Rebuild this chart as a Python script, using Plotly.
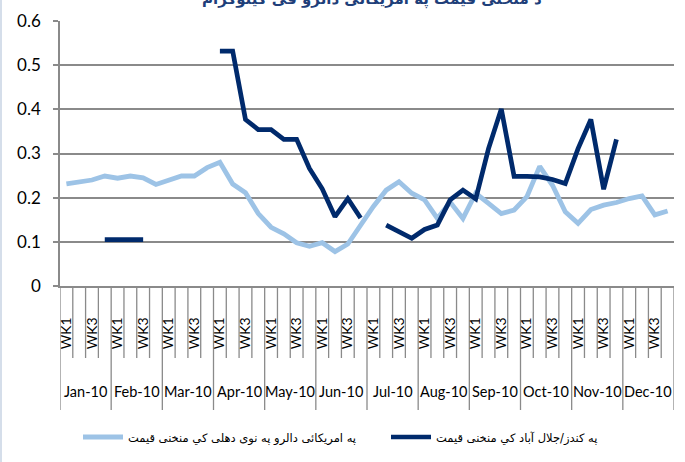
import plotly.graph_objects as go

months = ["Jan-10", "Feb-10", "Mar-10", "Apr-10", "May-10", "Jun-10",
          "Jul-10", "Aug-10", "Sep-10", "Oct-10", "Nov-10", "Dec-10"]
weeks = ["WK1", "WK2", "WK3", "WK4"]
week_tick_labels = ["WK1", "", "WK3", ""]

categories = [f"{m} {w}" for m in months for w in weeks]

delhi_usd = [0.231, 0.235, 0.240, 0.249, 0.244, 0.249, 0.245, 0.230, 0.240, 0.249,
             0.249, 0.268, 0.280, 0.231, 0.211, 0.164, 0.133, 0.118, 0.098, 0.090,
             0.098, 0.078, 0.095, 0.140, 0.180, 0.217, 0.236, 0.210, 0.195, 0.153,
             0.190, 0.153, 0.210, 0.187, 0.164, 0.172, 0.202, 0.271, 0.228, 0.168,
             0.142, 0.173, 0.183, 0.189, 0.198, 0.204, 0.161, 0.170]

kunduz_jalalabad = [None, None, None, 0.105, 0.105, 0.105, 0.105, None, None, None,
                    None, None, 0.532, 0.532, 0.377, 0.354, 0.354, 0.332, 0.332, 0.266,
                    0.220, 0.157, 0.198, 0.154, None, 0.138, 0.122, 0.108, 0.128, 0.138,
                    0.195, 0.217, 0.197, 0.311, 0.401, 0.248, 0.248, 0.247, 0.241, 0.232,
                    0.311, 0.377, 0.219, 0.332, None, None, None, None]

name_delhi = "په امریکائی دالرو په نوی دهلی کي منخنی قیمت"
name_kj = "په کندز/جلال آباد کي منخنی قیمت"
title_text = "د منخنی قیمت په امریکائی دالرو فی کیلوګرام"

LIGHT = "#9DC3E6"
DARK = "#002A6C"
GRID = "#8A8A8A"

W, H = 685, 462
L, R, T, B = 60, 11, 21, 176
plot_h = H - T - B
plot_w = W - L - R

fig = go.Figure()
fig.add_trace(go.Scatter(x=categories, y=delhi_usd, mode="lines", name=name_delhi,
                         line=dict(color=LIGHT, width=4.8), connectgaps=False, legend="legend"))
fig.add_trace(go.Scatter(x=categories, y=kunduz_jalalabad, mode="lines", name=name_kj,
                         line=dict(color=DARK, width=4.7), connectgaps=False, legend="legend2"))

ticktext = [week_tick_labels[i % 4] for i in range(len(categories))]

shapes = []
n = len(categories)
for b in range(n + 1):
    is_month = (b % 4 == 0)
    ylen = 124 if is_month else 72
    shapes.append(dict(type="line", xref="x", yref="paper",
                       x0=b - 0.5, x1=b - 0.5, y0=0, y1=-ylen / plot_h,
                       line=dict(color=GRID, width=1.3), layer="below"))
# faint page border at the left edge
shapes.append(dict(type="line", xref="paper", yref="paper",
                   x0=-(L - 1) / plot_w, x1=-(L - 1) / plot_w, y0=-B / plot_h, y1=(plot_h + T) / plot_h,
                   line=dict(color="#D5DEEA", width=2)))

annotations = []
for k, m in enumerate(months):
    annotations.append(dict(x=4 * k + 1.5, y=-(391 - (H - B)) / plot_h, xref="x", yref="paper",
                            text=m, showarrow=False, xanchor="center", yanchor="middle",
                            font=dict(family="Lato", size=14.5, color="#000000")))
annotations.append(dict(x=(372 - L) / plot_w, y=(H - B - 11) / plot_h, xref="paper", yref="paper",
                        text=f"<b>{title_text}</b>", showarrow=False, xanchor="center", yanchor="bottom",
                        font=dict(family="DejaVu Sans", size=15, color="#1F3F7A")))

leg_common = dict(orientation="h", xanchor="left", y=-(437 - (H - B)) / plot_h, yanchor="middle",
                  font=dict(family="DejaVu Sans", size=11.5, color="#000000"),
                  itemwidth=40, bgcolor="rgba(0,0,0,0)")

fig.update_layout(
    width=W, height=H,
    margin=dict(l=L, r=R, t=T, b=B, pad=0, autoexpand=False),
    paper_bgcolor="white", plot_bgcolor="white",
    showlegend=True,
    legend=dict(x=(78 - L) / plot_w, **leg_common),
    legend2=dict(x=(386 - L) / plot_w, **leg_common),
    shapes=shapes,
    annotations=annotations,
)

fig.update_xaxes(type="category", categoryorder="array", categoryarray=categories,
                 range=[-0.5, n - 0.5], tickvals=categories, ticktext=ticktext,
                 tickangle=-90, ticks="", showgrid=False, showline=True, automargin=False,
                 linecolor=GRID, linewidth=1.5, ticklabelstandoff=24,
                 tickfont=dict(family="Lato", size=14, color="#000000"))
fig.update_yaxes(range=[0, 0.6], dtick=0.1, tick0=0, showgrid=True, gridcolor=GRID, gridwidth=1.6,
                 zeroline=False, showline=True, linecolor=GRID, linewidth=1.5, automargin=False,
                 ticks="outside", ticklen=5, tickcolor=GRID, tickwidth=1.5,
                 tickfont=dict(family="Lato", size=17, color="#000000"), ticklabelstandoff=9)

fig.write_html("out.html", config={"displayModeBar": False},
               post_script="document.body.style.margin='0px';")
